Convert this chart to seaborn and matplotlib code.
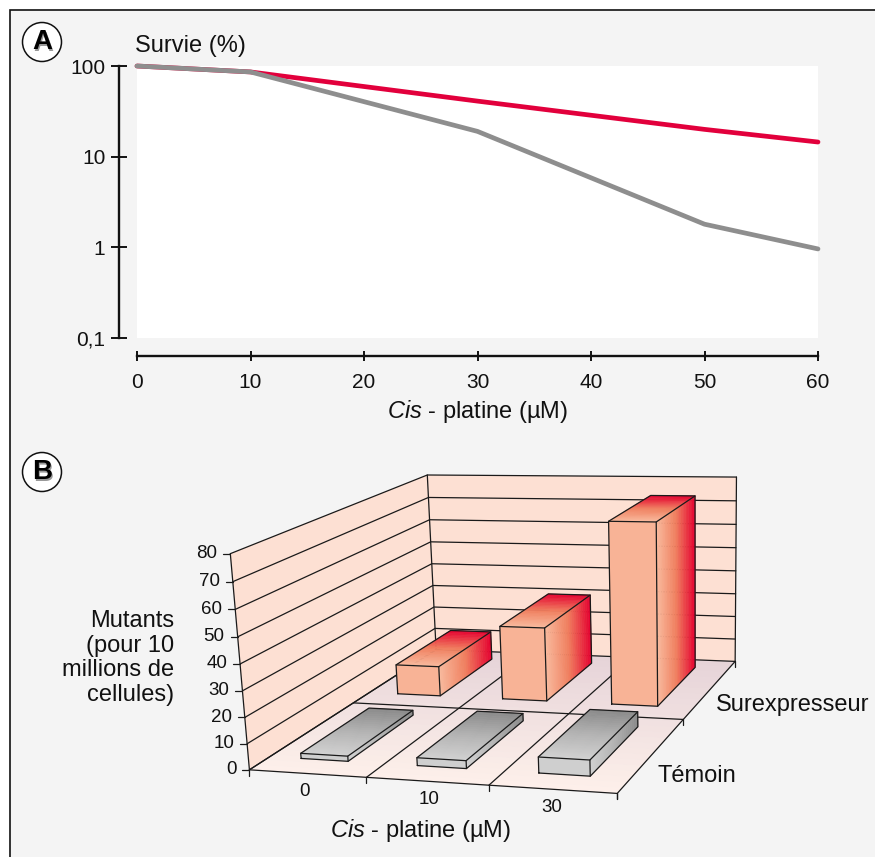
"""Survie et mutants sous cis-platine: courbes (A) et barres en perspective (B)."""

import matplotlib

matplotlib.use("Agg")
import matplotlib.pyplot as plt
import numpy as np
import pandas as pd
import seaborn as sns
from matplotlib.colors import to_rgb
from matplotlib.patches import Circle, Rectangle

W, H = 875, 857
BG = "#f4f4f4"

# panel A data
doses_a = [0, 10, 30, 50, 60]
survie_surexpresseur = [100, 86, 41, 20, 14.5]
survie_temoin = [100, 86, 19, 1.8, 0.96]

# panel B data
doses_b = ["0", "10", "30"]
mutants_surexpresseur = [12.5, 30.5, 74]
mutants_temoin = [2, 3, 6]
mutant_ticks = [0, 10, 20, 30, 40, 50, 60, 70, 80]

sns.set_theme(style="ticks")
plt.rcParams["font.family"] = ["Liberation Sans", "DejaVu Sans"]
plt.rcParams["mathtext.fontset"] = "custom"
plt.rcParams["mathtext.it"] = "Liberation Sans:italic"
plt.rcParams["mathtext.rm"] = "Liberation Sans"

fig = plt.figure(figsize=(W / 100, H / 100), dpi=100, facecolor="white")

# pixel canvas for the frame and the perspective panel
bg = fig.add_axes([0, 0, 1, 1])
bg.set_xlim(0, W)
bg.set_ylim(H, 0)
bg.axis("off")
bg.add_patch(Rectangle((10, 10), W, H, fc=BG, ec="#111111", lw=1.2))

# --- panel A ---
ax = fig.add_axes([137 / W, 1 - 338 / H, (818 - 137) / W, (338 - 66) / H])
ax.set_facecolor("white")
df_a = pd.DataFrame({"dose": doses_a, "sur": survie_surexpresseur, "tem": survie_temoin})
sns.lineplot(data=df_a, x="dose", y="sur", color="#e2003c", lw=3.4, ax=ax, clip_on=False)
sns.lineplot(data=df_a, x="dose", y="tem", color="#8e8e8e", lw=3.4, ax=ax, clip_on=False)
ax.set_yscale("log")
ax.set_xlim(0, 60)
ax.set_ylim(0.1, 100)
ax.set_yticks([0.1, 1, 10, 100], ["0,1", "1", "10", "100"])
ax.minorticks_off()
ax.set_xticks(range(0, 61, 10))
ax.grid(False)
sns.despine(ax=ax, offset={"left": 13, "bottom": 13})
for side in ("left", "bottom"):
    ax.spines[side].set_linewidth(1.7)
    ax.spines[side].set_color("#111111")
ax.tick_params(axis="y", direction="inout", length=11.5, width=1.4, pad=4, labelsize=15, colors="#111111")
ax.tick_params(axis="x", direction="inout", length=7.5, width=1.4, pad=8.5, labelsize=15, colors="#111111")
ax.set_xlabel("")
ax.set_ylabel("")
bg.text(135, 46, "Survie (%)", fontsize=17, va="center", ha="left", color="#111111")
bg.text(477, 411, r"$\mathit{Cis}$ - platine (µM)", fontsize=17, va="center", ha="center", color="#111111")


def badge(letter, cx, cy):
    bg.add_patch(Circle((cx, cy), 19.5, fc="white", ec="#111111", lw=1.1))
    bg.text(cx + 1.5, cy + 1.5, letter, fontsize=20, weight="bold", ha="center", va="center", color="#999999")
    bg.text(cx, cy, letter, fontsize=20, weight="bold", ha="center", va="center", color="black")


badge("A", 42, 42)
badge("B", 42, 472)

# --- panel B: projective camera fitted on the corners of the box ---
# (category, depth row, mutants) -> pixel
anchors = [
    ((0, 0, 0), (249, 768)), ((3, 0, 0), (618, 794)), ((3, 2, 0), (735, 661)),
    ((0, 2, 0), (436, 651)), ((0, 0, 80), (230, 555)), ((0, 2, 80), (428, 474)),
    ((3, 2, 80), (736, 477)),
]
rows = []
rhs = []
for (a, b, c), (u, v) in anchors:
    rows.append([a, b, c, 1, 0, 0, 0, 0, -u * a, -u * b, -u * c])
    rows.append([0, 0, 0, 0, a, b, c, 1, -v * a, -v * b, -v * c])
    rhs += [u, v]
cam = np.append(np.linalg.lstsq(np.array(rows, float), np.array(rhs, float), rcond=None)[0], 1).reshape(3, 4)


def proj(x, d, h):
    p = cam @ np.array([x, d, h, 1.0])
    return p[0] / p[2], p[1] / p[2]


def mix(c1, c2, t):
    c1, c2 = np.array(to_rgb(c1)), np.array(to_rgb(c2))
    return tuple(c1 + (c2 - c1) * t)


# everything is painted in call order, fills and lines alike
layer = [1]


def next_z():
    layer[0] += 1
    return layer[0]


def shaded(a, b, c, d, stops, n=24):
    """Fill quad a-b-c-d in strips, going from edge a-d to edge b-c."""
    a, b, c, d = map(np.array, (a, b, c, d))
    for i in range(n):
        t0, t1 = i / n, (i + 1) / n
        pts = [a + (b - a) * t0, a + (b - a) * t1, d + (c - d) * t1, d + (c - d) * t0]
        tt = (t0 + t1) / 2 * (len(stops) - 1)
        k = min(int(tt), len(stops) - 2)
        col = mix(stops[k], stops[k + 1], tt - k)
        bg.fill(*zip(*pts), color=col, lw=0.4, zorder=next_z())


def flat(pts, color):
    bg.fill(*zip(*pts), color=color, lw=0, zorder=next_z())


def edge(*pts, lw=0.9, color="#1a1a1a"):
    bg.plot(*zip(*pts), color=color, lw=lw, solid_capstyle="round", zorder=next_z())


wall = "#fde0d3"
flat([proj(0, 0, 0), proj(0, 2, 0), proj(0, 2, 80), proj(0, 0, 80)], wall)
flat([proj(0, 2, 0), proj(3, 2, 0), proj(3, 2, 80), proj(0, 2, 80)], wall)
shaded(proj(0, 2, 0), proj(0, 0, 0), proj(3, 0, 0), proj(3, 2, 0), ["#e6d3d8", "#fdf0ea"])

for v in mutant_ticks:
    edge(proj(0, 0, v), proj(0, 2, v), proj(3, 2, v))
    x0, y0 = proj(0, 0, v)
    edge((x0, y0), (x0 - 7, y0))
    bg.text(x0 - 13, y0, str(v), ha="right", va="center", fontsize=13.5, color="#111111")
edge(proj(0, 0, 0), proj(0, 0, 80))
edge(proj(0, 2, 0), proj(0, 2, 80))
edge(proj(3, 2, 0), proj(3, 2, 80))
edge(proj(0, 0, 0), proj(3, 0, 0), proj(3, 2, 0))
edge(proj(0, 0, 0), proj(0, 2, 0))
edge(proj(0, 1, 0), proj(3, 1, 0))
for i in (1, 2):
    edge(proj(i, 0, 0), proj(i, 2, 0))
for i in range(4):
    x0, y0 = proj(i, 0, 0)
    edge((x0, y0), (x0, y0 + 6))
for d in (0, 1, 2):
    x0, y0 = proj(3, d, 0)
    edge((x0, y0), (x0, y0 + 6))

SALMON = ["#f9bb9f", "#f0805f", "#e4002f"]
GREY = ["#d2d2d2", "#b4b4b4", "#8a8a8a"]


def bar3d(i, row, value, front, stops):
    x0, x1 = i + 0.275, i + 0.685
    d0, d1 = row + 0.18, row + 0.86
    p = {(x, d, z): proj(x, d, z) for x in (x0, x1) for d in (d0, d1) for z in (0, value)}
    flat([p[x0, d0, 0], p[x1, d0, 0], p[x1, d0, value], p[x0, d0, value]], front)
    shaded(p[x1, d0, 0], p[x1, d1, 0], p[x1, d1, value], p[x1, d0, value], stops)
    shaded(p[x0, d0, value], p[x0, d1, value], p[x1, d1, value], p[x1, d0, value], stops)
    edge(p[x0, d0, 0], p[x1, d0, 0], p[x1, d1, 0], p[x1, d1, value], p[x0, d1, value],
         p[x0, d0, value], p[x0, d0, 0])
    edge(p[x0, d0, value], p[x1, d0, value], p[x1, d1, value])
    edge(p[x1, d0, value], p[x1, d0, 0])


for i, val in enumerate(mutants_surexpresseur):
    bar3d(i, 1, val, "#f8b396", SALMON)
for i, val in enumerate(mutants_temoin):
    bar3d(i, 0, val, "#cfcfcf", GREY)

for label, (px, py) in zip(doses_b, [(305, 792), (429, 800), (552, 808)]):
    bg.text(px, py, label, ha="center", va="center", fontsize=13.5, color="#111111")
bg.text(716, 705, "Surexpresseur", fontsize=17, va="center", color="#111111")
bg.text(657, 776, "Témoin", fontsize=17, va="center", color="#111111")
bg.text(420, 831, r"$\mathit{Cis}$ - platine (µM)", fontsize=17, va="center", ha="center", color="#111111")
for line, py in zip(["Mutants", "(pour 10", "millions de", "cellules)"], [621, 646, 670, 695]):
    bg.text(174, py, line, fontsize=17, ha="right", va="center", color="#111111")

fig.savefig("out.png", dpi=100, facecolor="white")
